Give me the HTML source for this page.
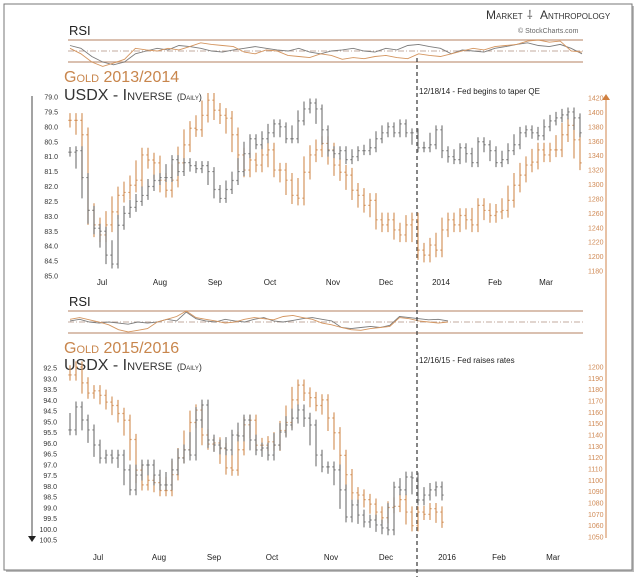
<!DOCTYPE html>
<html><head><meta charset="utf-8"><style>
html,body{margin:0;padding:0;background:#fff;}
svg{display:block;font-family:"Liberation Sans",sans-serif;}
.sc{font-variant:small-caps;}
</style></head><body>
<svg id="c" width="640" height="577" viewBox="0 0 640 577">
<rect x="6" y="6" width="628" height="566" fill="#bbb"/>
<rect x="4" y="4" width="628" height="566" fill="#fff" stroke="#777" stroke-width="1"/>
<g id="g"></g>
</svg>
<script>
// ===== data =====
const topMonths=["Jul","Aug","Sep","Oct","Nov","Dec","2014","Feb","Mar"];
const botMonths=["Jul","Aug","Sep","Oct","Nov","Dec","2016","Feb","Mar"];
const topUsdTicks=[79.0,79.5,80.0,80.5,81.0,81.5,82.0,82.5,83.0,83.5,84.0,84.5,85.0];
const topGoldTicks=[1420,1400,1380,1360,1340,1320,1300,1280,1260,1240,1220,1200,1180];
const botUsdTicks=[92.5,93.0,93.5,94.0,94.5,95.0,95.5,96.0,96.5,97.0,97.5,98.0,98.5,99.0,99.5,100.0,100.5];
const botGoldTicks=[1200,1190,1180,1170,1160,1150,1140,1130,1120,1110,1100,1090,1080,1070,1060,1050];
const topUsd=[80.85,80.8,81.7,82.8,83.4,83.5,84.3,84.6,83.3,82.9,82.7,82.5,82.3,82.0,81.8,81.7,81.7,81.1,81.5,81.2,81.3,81.4,81.3,81.5,82.1,82.4,82.1,81.8,81.5,80.9,80.4,80.6,80.4,80.2,79.9,80.0,80.4,80.4,79.8,79.4,79.2,79.4,80.1,80.8,80.9,80.8,81.1,81.0,80.8,80.8,80.7,80.4,80.2,80.0,80.2,79.9,80.2,80.2,80.7,80.7,80.6,80.1,80.8,81.0,81.1,80.7,80.9,81.2,80.5,80.6,80.8,81.2,81.1,80.8,80.6,80.2,80.1,80.2,80.3,80.0,79.8,79.7,79.6,79.5,79.7,80.2];
const topGold=[1389,1389,1369,1264,1244,1230,1244,1262,1285,1289,1299,1306,1341,1334,1330,1306,1292,1306,1330,1355,1378,1376,1396,1417,1403,1396,1392,1369,1341,1320,1334,1327,1341,1348,1320,1320,1306,1285,1281,1317,1341,1348,1357,1348,1327,1317,1313,1292,1285,1271,1278,1251,1244,1251,1237,1230,1244,1251,1209,1202,1216,1209,1237,1251,1244,1257,1251,1244,1271,1264,1257,1262,1264,1278,1299,1313,1327,1331,1348,1341,1348,1348,1369,1382,1362,1330];
const botUsd=[95.38,94.31,94.92,95.38,96.08,96.69,96.55,96.69,96.55,97.24,98.17,97.48,97.01,97.01,97.48,97.94,97.94,97.24,96.69,96.31,96.55,94.92,94.22,95.85,96.08,96.22,96.31,95.62,95.66,94.92,95.85,96.31,96.22,96.55,96.08,95.48,95.15,94.83,94.45,94.83,95.15,96.55,97.1,97.1,97.24,98.17,99.43,98.87,99.34,99.66,99.57,99.8,99.94,100.03,98.04,98.17,97.57,97.61,98.64,98.41,98.17,98.03,98.41];
const botGold=[1193,1200,1186,1177,1179,1175,1169,1166,1159,1153,1136,1109,1096,1100,1098,1091,1091,1105,1120,1127,1151,1162,1140,1132,1133,1128,1111,1109,1127,1149,1153,1131,1131,1134,1131,1144,1151,1171,1184,1177,1173,1166,1171,1155,1142,1122,1105,1089,1087,1083,1079,1072,1067,1076,1077,1083,1072,1060,1072,1070,1075,1072,1063];
const rsiTopUsd=[60,55,40,30,25,30,45,50,55,52,60,58,55,50,48,52,55,58,55,52,50,55,48,45,50,52,55,50,48,55,52,60,62,58,55,45,52,50,48,55,58,62,65,60,58,62,55,45];
const rsiTopGold=[55,45,30,22,28,35,55,52,50,55,52,58,65,62,60,58,48,45,52,50,42,40,38,45,42,35,38,36,40,42,38,36,45,42,40,45,50,55,52,58,60,62,68,70,66,68,50,48];
const rsiBotUsd=[52,55,50,48,50,48,46,50,48,50,55,52,68,56,52,50,55,52,50,55,58,52,50,53,56,58,55,52,40,38,40,42,40,44,60,58,56,54,55,52];
const rsiBotGold=[55,58,54,50,45,36,32,35,38,50,55,60,70,58,55,52,48,50,55,58,56,54,60,62,58,55,48,45,40,36,35,38,40,42,58,56,52,50,48,50];

// ===== drawing =====
const NS="http://www.w3.org/2000/svg";
const root=document.getElementById('g');
function el(tag,attrs,parent){const e=document.createElementNS(NS,tag);for(const k in attrs)e.setAttribute(k,attrs[k]);(parent||root).appendChild(e);return e;}
function txt(x,y,s,attrs,parent){const t=el('text',Object.assign({x:x,y:y},attrs),parent);t.textContent=s;return t;}
const GOLD="#d4955f", GRAY="#7c7c7c";
const X0=70, STEP=6;
function xAt(i){return X0+i*STEP;}
function linScale(v0,y0,v1,y1){return v=>y0+(v-v0)*(y1-y0)/(v1-v0);}

function bars(vals,sy,color,name,pad){
  const g=el('g',{});
  
  
  vals.forEach((v,i)=>{
    const p=i>0?vals[i-1]:v, n=i<vals.length-1?vals[i+1]:v;
    const hi=Math.min(p,v,(v+n)/2)-pad, lo=Math.max(p,v,(v+n)/2)+pad;
    const x=xAt(i);
    const b=el('path',{d:`M${x} ${sy(hi)}V${sy(lo)}M${x-1.6} ${sy(p)}H${x}M${x} ${sy(v)}H${x+1.6}`,stroke:color,'stroke-width':1.2,fill:'none'},g);
    
    
  });
}
function rsiPanel(yTop,yBot,a,b,name){
  const g=el('g',{});
  
  
  el('line',{x1:68,x2:583,y1:yTop,y2:yTop,stroke:"#c49a80",'stroke-width':1.3},g);
  el('line',{x1:68,x2:583,y1:yBot,y2:yBot,stroke:"#c49a80",'stroke-width':1.3},g);
  el('line',{x1:68,x2:583,y1:(yTop+yBot)/2,y2:(yTop+yBot)/2,stroke:"#b09080",'stroke-width':0.8,'stroke-dasharray':'6 2 1 2'},g);
  const sy=linScale(70,yTop,30,yBot);
  [[a,GRAY,'rsi-usdx-line'],[b,GOLD,'rsi-gold-line']].forEach(([arr,c,nm])=>{
    const n=arr.length, span=(name==='rsi-top'?512:378);
    const d=arr.map((v,i)=>(i?'L':'M')+(70+i*span/(n-1)).toFixed(1)+' '+sy(v).toFixed(1)).join('');
    const p=el('path',{d:d,stroke:c,'stroke-width':0.9,fill:'none'},g);
    
    
  });
  const t=txt(69,yTop-5,"RSI",{'font-size':13,fill:"#222"},g);
  
  
}

// Top RSI
rsiPanel(40,62,rsiTopUsd,rsiTopGold,'rsi-top');
rsiPanel(311,333,rsiBotUsd,rsiBotGold,'rsi-bottom');

// Titles
function title(y1,y2,g1){
  let t=txt(64,y1,g1,{'font-size':16,fill:"#c8864d",class:'sc'});
  
  
  t=el('text',{x:64,y:y2,'font-size':16,fill:"#333",class:'sc'});
  t.innerHTML='USDX - Inverse <tspan font-size="9">(Daily)</tspan>';
  
  
}
title(82,100,"Gold 2013/2014");
title(353,370,"Gold 2015/2016");

// brand
let t=txt(486,19,"Market",{'font-size':12,fill:"#333",class:'sc'});


t=txt(527,19,"⸸",{'font-size':12,fill:"#555"});


t=txt(540,19,"Anthropology",{'font-size':12,fill:"#333",class:'sc'});


t=txt(518,33,"© StockCharts.com",{'font-size':7,fill:"#666"});



// axes lines
let a=el('path',{d:"M32 96V538",stroke:"#666",'stroke-width':1.2,fill:'none'});


a=el('path',{d:"M28 536L36 536L32 542Z",fill:"#222"});


a=el('path',{d:"M606 98V538",stroke:"#d89a6a",'stroke-width':1.2,fill:'none'});


a=el('path',{d:"M602 100L610 100L606 94Z",fill:"#d08040"});


a=el('line',{x1:417,x2:417,y1:58,y2:577,stroke:"#444",'stroke-width':1.3,'stroke-dasharray':'4 3'});



t=txt(419,94,"12/18/14 - Fed begins to taper QE",{'font-size':8,fill:"#222"});


t=txt(419,363,"12/16/15 - Fed raises rates",{'font-size':8,fill:"#222"});



// scales
const syTopU=linScale(79,97,85,276), syTopG=linScale(1420,98,1180,271);
const syBotU=linScale(92.5,368,100.5,540), syBotG=linScale(1200,367,1050,537);

topUsdTicks.forEach(v=>{const e=txt(58,syTopU(v)+2.5,v.toFixed(1),{'font-size':7,fill:"#333",'text-anchor':'end'});
  
  });
topGoldTicks.forEach(v=>{const e=txt(588,syTopG(v)+2.5,String(v),{'font-size':7,fill:"#d08a55"});
  
  });
botUsdTicks.forEach(v=>{const e=txt(57,syBotU(v)+2.5,v.toFixed(1),{'font-size':7,fill:"#333",'text-anchor':'end'});
  
  });
botGoldTicks.forEach(v=>{const e=txt(588,syBotG(v)+2.5,String(v),{'font-size':7,fill:"#d08a55"});
  
  });

const topMx=[102,160,215,270,333,386,441,495,546];
const botMx=[98,159,214,272,331,386,447,499,553];
topMonths.forEach((m,i)=>{const e=txt(topMx[i],285,m,{'font-size':8,fill:"#222",'text-anchor':'middle'});
  
  });
botMonths.forEach((m,i)=>{const e=txt(botMx[i],560,m,{'font-size':8,fill:"#222",'text-anchor':'middle'});
  
  });

bars(topGold,syTopG,GOLD,'gold-2013',10);
bars(topUsd,syTopU,GRAY,'usdx-2013',0.15);
bars(botGold,syBotG,GOLD,'gold-2015',5);
bars(botUsd,syBotU,GRAY,'usdx-2015',0.25);
</script>
</body></html>
